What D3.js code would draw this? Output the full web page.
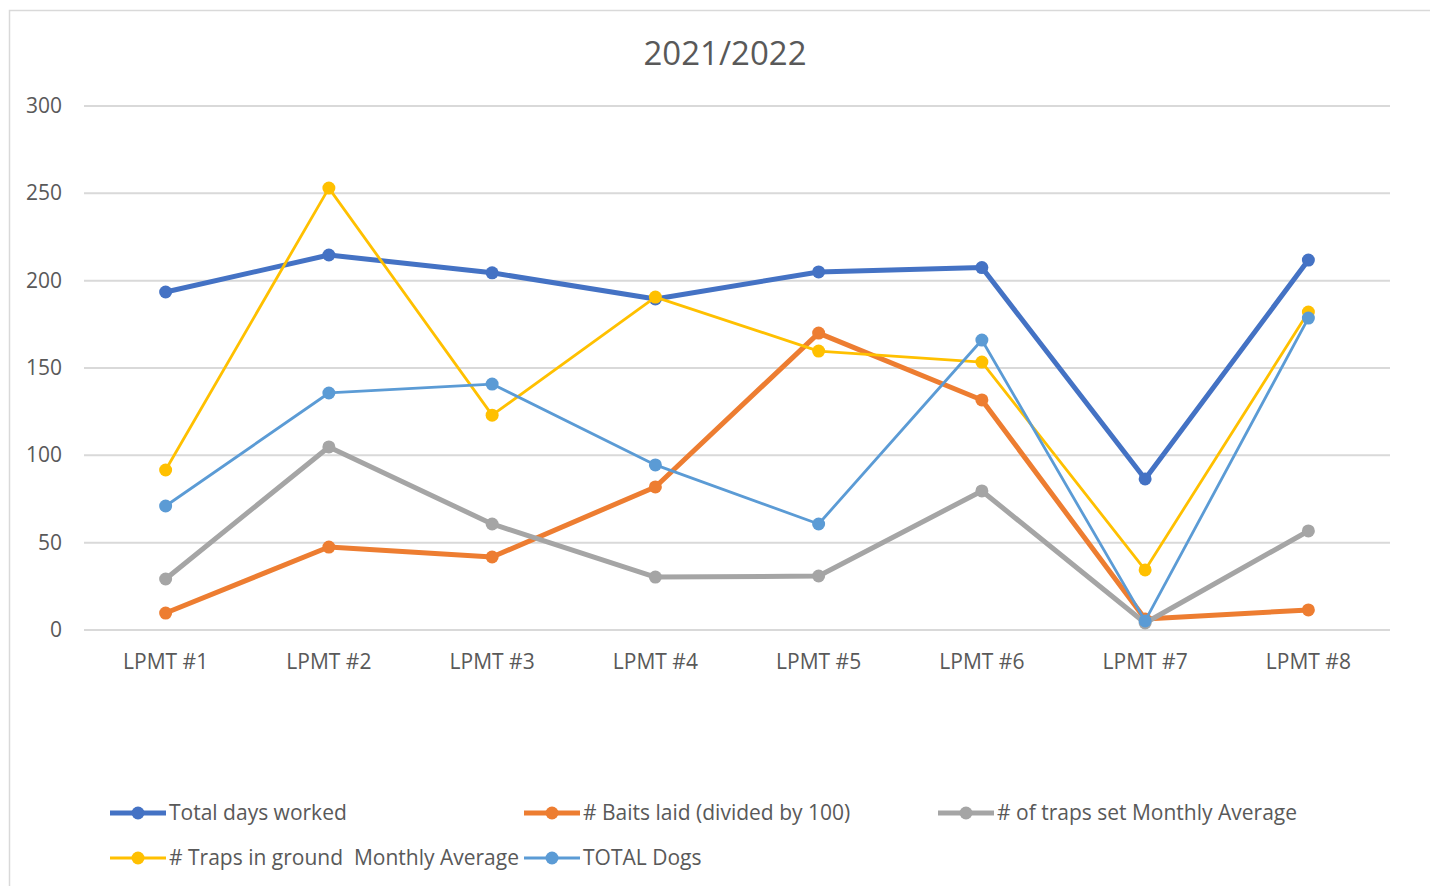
<!doctype html>
<html>
<head>
<meta charset="utf-8">
<style>
  body { margin: 0; background: #fff; }
  text { font-family: "Open Sans", "Liberation Sans", sans-serif; fill: #595959; white-space: pre; }
</style>
<script src="https://d3js.org/d3.v7.min.js"></script>
</head>
<body>
<svg width="1430" height="886" class="svg1"></svg>
<script>
var categories = ["LPMT #1", "LPMT #2", "LPMT #3", "LPMT #4", "LPMT #5", "LPMT #6", "LPMT #7", "LPMT #8"];
var yTicks = [0, 50, 100, 150, 200, 250, 300];

var totalDays   = [193.5, 214.7, 204.5, 189.5, 205, 207.5, 86.5, 211.8];
var baits       = [9.7, 47.5, 41.8, 81.9, 170, 131.7, 6.3, 11.5];
var trapsSet    = [29.2, 104.8, 60.7, 30.3, 30.9, 79.6, 4, 56.7];
var trapsGround = [91.6, 253, 123, 190.6, 159.7, 153.4, 34.4, 182];
var totalDogs   = [71, 135.7, 140.8, 94.5, 60.7, 166, 5.2, 178.6];

var series = [
  { name: "Total days worked", values: totalDays, color: "#4472C4", w: 5 },
  { name: "# Baits laid (divided by 100)", values: baits, color: "#ED7D31", w: 5 },
  { name: "# of traps set Monthly Average", values: trapsSet, color: "#A5A5A5", w: 5 },
  { name: "# Traps in ground  Monthly Average", values: trapsGround, color: "#FFC000", w: 2.8 },
  { name: "TOTAL Dogs", values: totalDogs, color: "#5B9BD5", w: 2.8 }
];

var svg = d3.select(".svg1");

// chart frame
svg.append("rect")
   .attr("x", 9.5).attr("y", 10.5)
   .attr("width", 1440).attr("height", 900)
   .attr("fill", "none").attr("stroke", "#d9d9d9").attr("stroke-width", 1.5);

svg.append("text")
   .attr("x", 725).attr("y", 65)
   .attr("text-anchor", "middle")
   .attr("font-size", "33px")
   .text("2021/2022");

var x = d3.scaleBand().domain(categories).range([84, 1390]);
var y = d3.scaleLinear().domain([0, 300]).range([630, 106]);

// gridlines
svg.append("g").selectAll("line")
   .data(yTicks).enter().append("line")
   .attr("x1", 84).attr("x2", 1390)
   .attr("y1", function(d) { return y(d); })
   .attr("y2", function(d) { return y(d); })
   .attr("stroke", "#d9d9d9").attr("stroke-width", 2);

svg.append("g").selectAll("text")
   .data(yTicks).enter().append("text")
   .attr("x", 62).attr("y", function(d) { return y(d) + 7; })
   .attr("text-anchor", "end")
   .attr("font-size", "21px")
   .text(function(d) { return d; });

svg.append("g").selectAll("text")
   .data(categories).enter().append("text")
   .attr("x", function(d) { return x(d) + x.bandwidth() / 2; })
   .attr("y", 669)
   .attr("text-anchor", "middle")
   .attr("font-size", "21px")
   .text(function(d) { return d; });

var line = d3.line()
   .x(function(d, i) { return x(categories[i]) + x.bandwidth() / 2; })
   .y(function(d) { return y(d); });

series.forEach(function(s) {
  var g = svg.append("g");
  g.append("path")
   .attr("d", line(s.values))
   .attr("fill", "none")
   .attr("stroke", s.color)
   .attr("stroke-width", s.w)
   .attr("stroke-linejoin", "round");
  g.selectAll("circle")
   .data(s.values).enter().append("circle")
   .attr("cx", function(d, i) { return x(categories[i]) + x.bandwidth() / 2; })
   .attr("cy", function(d) { return y(d); })
   .attr("r", 6.5)
   .attr("fill", s.color);
});

// legend
var legendPos = [[110, 813], [524, 813], [938, 813], [110, 858], [524, 858]];
series.forEach(function(s, i) {
  var p = legendPos[i];
  var lg = svg.append("g").attr("transform", "translate(" + p[0] + "," + p[1] + ")");
  lg.append("line")
    .attr("x1", 0).attr("x2", 56).attr("y1", 0).attr("y2", 0)
    .attr("stroke", s.color).attr("stroke-width", s.w);
  lg.append("circle").attr("cx", 28).attr("cy", 0).attr("r", 6.5).attr("fill", s.color);
  lg.append("text")
    .attr("x", 59).attr("y", 7)
    .attr("font-size", "21px")
    .text(s.name);
});
</script>
</body>
</html>
